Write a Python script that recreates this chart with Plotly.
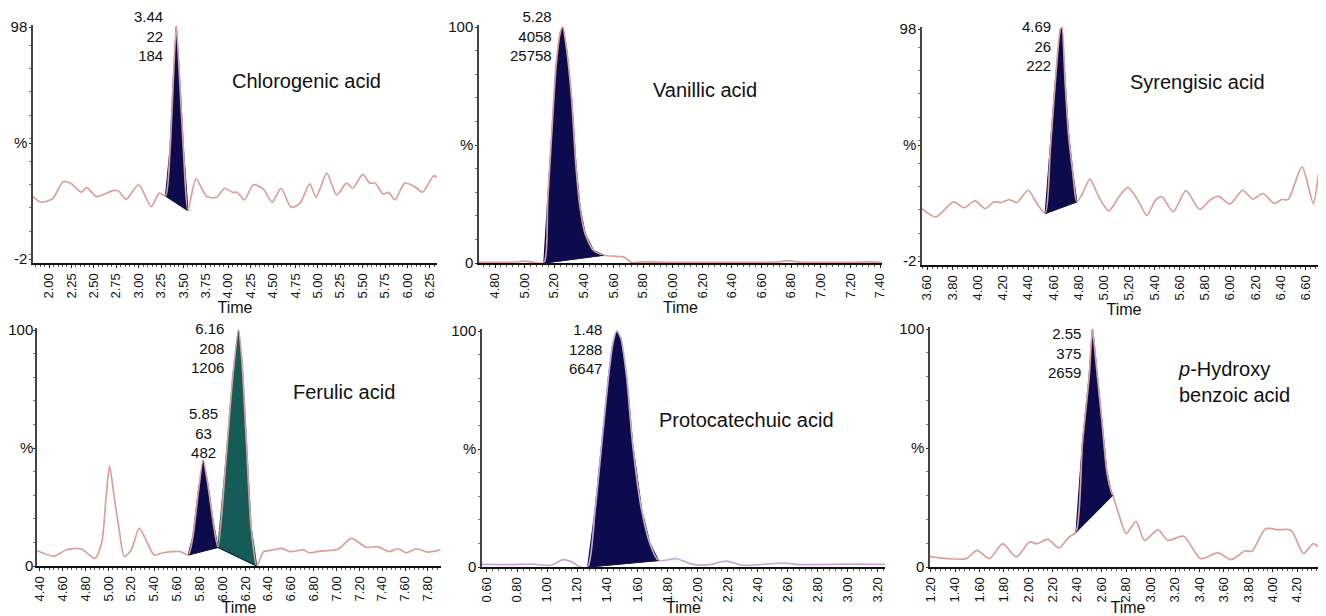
import plotly.graph_objects as go

# ---------------- data ----------------
# Chlorogenic acid
t1 = [1.82, 1.91, 2.04, 2.16, 2.25, 2.36, 2.42, 2.53, 2.71, 2.77, 2.86, 3.00, 3.14, 3.23,
      3.30, 3.35, 3.385, 3.42, 3.46, 3.50, 3.55,
      3.64, 3.76, 3.87, 3.96, 4.05, 4.10, 4.18, 4.28, 4.39, 4.49, 4.59, 4.70, 4.80, 4.91,
      4.98, 5.10, 5.21, 5.32, 5.39, 5.50, 5.58, 5.64, 5.73, 5.79, 5.86, 5.97, 6.08, 6.17,
      6.29, 6.33]
v1 = [24.9, 22.5, 24, 31.4, 30.4, 26.8, 28.8, 24.9, 27.5, 27.4, 23.8, 30, 20.6, 26.4,
      25.2, 45, 73.6, 98.3, 73.6, 45, 18.9,
      32.5, 24.9, 24.6, 28.5, 26.7, 26.8, 23.5, 30, 28.2, 22.5, 28.5, 20.3, 22, 30.4,
      24.6, 35, 25.6, 30.7, 28.5, 34.5, 30.7, 30.7, 26, 26.7, 23.5, 30.7, 29.2, 26.8,
      33.8, 33.5]
peaks1 = [(3.30, 3.55)]
labels1 = ["3.44<br>22<br>184"]

# Vanillic acid
t2 = [4.69, 4.80, 4.92, 5.00, 5.06,
      5.13, 5.156, 5.183, 5.212, 5.24, 5.257, 5.284, 5.318, 5.347, 5.374, 5.408, 5.464, 5.532,
      5.62, 5.67, 5.72, 5.82, 6.00, 6.20, 6.40, 6.60, 6.72, 6.78, 6.85, 7.00, 7.20, 7.30, 7.41]
v2 = [0.3, 0.3, 0.3, 0.8, 0.3,
      0, 26.6, 55, 83.3, 97.5, 100, 90.4, 69, 40.8, 23.8, 12.5, 5.4, 3.3,
      2.8, 2.5, 0.3, 0.5, 0.3, 0.3, 0.3, 0.3, 0.5, 1.0, 0.4, 0.3, 0.3, 0.5, 0.3]
peaks2 = [(5.13, 5.532)]
labels2 = ["5.28<br>4058<br>25758"]

# Syrengisic acid
t3 = [3.56, 3.67, 3.81, 3.89, 3.98, 4.06, 4.13, 4.19, 4.25, 4.31, 4.40, 4.47,
      4.536, 4.576, 4.615, 4.655, 4.668, 4.694, 4.72, 4.755, 4.786,
      4.83, 4.89, 4.96, 5.04, 5.12, 5.19, 5.27, 5.34, 5.41, 5.46, 5.55, 5.65, 5.76, 5.84,
      5.91, 6.00, 6.10, 6.18, 6.26, 6.35, 6.41, 6.46, 6.57, 6.66, 6.71, 6.76]
v3 = [20.6, 17, 23.5, 21, 23.9, 20.6, 23.5, 23.2, 24.5, 23.2, 28.5, 22.8,
      18.5, 45.8, 74.7, 97.7, 98.9, 74.7, 53, 35.8, 23.5,
      27, 33.3, 25.7, 19.6, 25.7, 29.7, 24.2, 17.7, 24.2, 25.7, 19.2, 28.3, 20.2, 24.2,
      25.9, 22.5, 28.5, 24.7, 27.1, 22.8, 24.5, 24.5, 38.6, 22.8, 38.6, 47.3]
peaks3 = [(4.536, 4.786)]
labels3 = ["4.69<br>26<br>222"]

# Ferulic acid
t4 = [4.36, 4.52, 4.63, 4.76, 4.88, 4.94, 4.98, 5.01, 5.05, 5.09, 5.14, 5.20, 5.27, 5.33,
      5.40, 5.48, 5.63, 5.70,
      5.74, 5.79, 5.83, 5.87, 5.92, 5.96,
      6.03, 6.09, 6.14, 6.17, 6.21, 6.25, 6.30,
      6.36, 6.41, 6.52, 6.59, 6.71, 6.76, 6.85, 7.01, 7.13, 7.26, 7.36, 7.46, 7.54, 7.61,
      7.70, 7.80, 7.91]
v4 = [6.8, 4.2, 6.8, 7.3, 3.2, 9.6, 29.4, 42.4, 29.4, 16.7, 4, 6.8, 16, 11,
      4.7, 5.6, 6.1, 4.7,
      12.4, 32.2, 44.9, 35, 18, 7.9,
      44.9, 80.2, 100, 87, 52, 16.7, 0,
      6.1, 6.5, 7.5, 6.1, 6.8, 5.6, 6.3, 7.1, 11.7, 7.9, 8.2, 6.1, 7.3, 5.6,
      7.3, 5.9, 6.8]
peaks4 = [(5.70, 5.96), (5.96, 6.30)]
labels4 = ["5.85<br>63<br>482", "6.16<br>208<br>1206"]

# Protocatechuic acid
t5 = [0.567, 0.75, 0.90, 1.02, 1.11, 1.17, 1.22,
      1.27, 1.319, 1.363, 1.408, 1.437, 1.463, 1.49, 1.529, 1.569, 1.629, 1.684, 1.74,
      1.86, 1.97, 2.08, 2.19, 2.30, 2.45, 2.57, 2.68, 2.79, 3.00, 3.247]
v5 = [1.1, 1.0, 1.2, 0.7, 3.1, 2.0, 0,
      0, 24, 52, 80.5, 94.6, 100, 97, 80.5, 52, 24, 9.9, 2.8,
      3.5, 1.1, 1.0, 2.5, 0.7, 1.2, 1.7, 1.0, 1.0, 1.2, 1.1]
peaks5 = [(1.27, 1.74)]
labels5 = ["1.48<br>1288<br>6647"]

# p-Hydroxy benzoic acid
t6 = [1.195, 1.34, 1.49, 1.58, 1.68, 1.79, 1.90, 2.01, 2.07, 2.16, 2.25, 2.33,
      2.39, 2.442, 2.497, 2.524, 2.538, 2.565, 2.606, 2.64, 2.674, 2.69,
      2.73, 2.80, 2.88, 2.95, 3.06, 3.14, 3.27, 3.41, 3.55, 3.66, 3.77, 3.83, 3.94, 4.04,
      4.15, 4.25, 4.33, 4.39, 4.435]
v6 = [4.5, 3.5, 3.5, 7, 3.5, 9.8, 4.2, 10.5, 9.8, 11.6, 8, 12.5,
      14.7, 51.9, 80, 100, 94, 80, 59, 40.7, 32.3, 30.2,
      23.8, 14, 19.2, 11.2, 15.7, 11.2, 12.9, 3.5, 5.9, 3.1, 6.7, 6.7, 16.1, 15.7,
      15.4, 5.6, 9.8, 8.1, 9.8]
peaks6 = [(2.39, 2.69)]
labels6 = ["2.55<br>375<br>2659"]

names = ["Chlorogenic acid", "Vanillic acid", "Syrengisic acid",
         "Ferulic acid", "Protocatechuic acid", "<i>p</i>-Hydroxy<br>benzoic acid"]

# ---------------- styling / layout ----------------
PAGE_W, PAGE_H = 1326, 616
OFF = 8                      # default page margin of the html body
W, H = PAGE_W - OFF, PAGE_H - OFF
PINK = "#d9a09c"
LAV = "#c7a7d2"
NAVY = "#0b0b4e"
TEAL = "#155b57"
FONT = "Liberation Sans, Arial, sans-serif"


def fx(p):
    return (p - OFF) / W


def fy(p):
    return 1 - (p - OFF) / H


panels = [
    dict(t=t1, v=v1, peaks=peaks1, fills=[NAVY], line=PINK, xdom=(33, 437), ydom=(25, 263),
         xr=(1.821, 6.33), yr=(-3.72, 98.86), dtick=0.25, ytv=[-2, 48, 98], ytt=["-2", "%", "98"],
         name_pos=(306, 81, "center"), lab=[(165, 36, "right")], ystand=-1, tstand=1),
    dict(t=t2, v=v2, peaks=peaks2, fills=[NAVY], line=PINK, xdom=(479, 882), ydom=(25, 263),
         xr=(4.692, 7.413), yr=(0, 100.85), dtick=0.2, ytv=[0, 50, 100], ytt=["0", "%", "100"],
         name_pos=(705, 90, "center"), lab=[(554, 36, "right")], ystand=-1, tstand=1),
    dict(t=t3, v=v3, peaks=peaks3, fills=[NAVY], line=PINK, xdom=(922, 1326), ydom=(27, 265),
         xr=(3.56, 6.76), yr=(-3.72, 98.86), dtick=0.2, ytv=[-2, 48, 98], ytt=["-2", "%", "98"],
         name_pos=(1197, 82, "center"), lab=[(1053, 46, "right")], ystand=-1, tstand=1),
    dict(t=t4, v=v4, peaks=peaks4, fills=[NAVY, TEAL], line=PINK, xdom=(37, 441), ydom=(328, 566),
         xr=(4.374, 7.915), yr=(0, 100.85), dtick=0.2, ytv=[0, 50, 100], ytt=["0", "%", "100"],
         name_pos=(344, 392, "center"), lab=[(203, 433, "center"), (226, 348, "right")],
         ystand=-3, tstand=4),
    dict(t=t5, v=v5, peaks=peaks5, fills=[NAVY], line=LAV, xdom=(482, 885), ydom=(329, 567),
         xr=(0.567, 3.247), yr=(0, 100.85), dtick=0.2, ytv=[0, 50, 100], ytt=["0", "%", "100"],
         name_pos=(746, 420, "center"), lab=[(604, 349, "right")], ystand=-1, tstand=4),
    dict(t=t6, v=v6, peaks=peaks6, fills=[NAVY], line=PINK, xdom=(930, 1326), ydom=(327, 567),
         xr=(1.195, 4.435), yr=(0, 100.84), dtick=0.2, ytv=[0, 50, 100], ytt=["0", "%", "100"],
         name_pos=(1176, 382, "left"), lab=[(1083, 353, "right")], ystand=-1, tstand=4),
]
all_labels = [labels1, labels2, labels3, labels4, labels5, labels6]

fig = go.Figure()
annotations = []
layout_axes = {}

for i, p in enumerate(panels):
    k = "" if i == 0 else str(i + 1)
    xa, ya = "x" + k, "y" + k
    # peak fills
    for (a, b), col in zip(p["peaks"], p["fills"]):
        pts = [(t, v) for t, v in zip(p["t"], p["v"]) if a - 1e-9 <= t <= b + 1e-9]
        px_ = [q[0] for q in pts] + [pts[0][0]]
        py_ = [q[1] for q in pts] + [pts[0][1]]
        fig.add_trace(go.Scatter(x=px_, y=py_, mode="lines", fill="toself", fillcolor=col,
                                 line=dict(color=col, width=1.2), xaxis=xa, yaxis=ya,
                                 showlegend=False, hoverinfo="skip"))
    # chromatogram trace
    fig.add_trace(go.Scatter(x=p["t"], y=p["v"], mode="lines",
                             line=dict(color=p["line"], width=1.7, shape="spline", smoothing=0.7),
                             xaxis=xa, yaxis=ya, showlegend=False))
    # peak baselines on top
    for (a, b), col in zip(p["peaks"], p["fills"]):
        pts = [(t, v) for t, v in zip(p["t"], p["v"]) if a - 1e-9 <= t <= b + 1e-9]
        fig.add_trace(go.Scatter(x=[pts[0][0], pts[-1][0]], y=[pts[0][1], pts[-1][1]],
                                 mode="lines", line=dict(color="#1a1a3a", width=1),
                                 xaxis=xa, yaxis=ya, showlegend=False, hoverinfo="skip"))

    layout_axes["xaxis" + k] = dict(
        domain=[max(0, fx(p["xdom"][0])), min(1, fx(p["xdom"][1]))], range=list(p["xr"]), anchor=ya,
        tick0=0, dtick=p["dtick"], tickformat=".2f", tickangle=-90,
        ticks="outside", ticklen=3, tickwidth=1, tickcolor="#222",
        minor=dict(ticks="outside", ticklen=2, dtick=p["dtick"] / 5, tickcolor="#555"),
        showline=True, linecolor="#111", linewidth=2, showgrid=False, zeroline=False,
        tickfont=dict(family=FONT, size=13, color="#111"),
        title=dict(text="Time", font=dict(family=FONT, size=16, color="#111"), standoff=p["tstand"]),
        automargin=False,
    )
    layout_axes["yaxis" + k] = dict(
        domain=[fy(p["ydom"][1]), fy(p["ydom"][0])], range=list(p["yr"]), anchor=xa,
        tickmode="array", tickvals=p["ytv"], ticktext=p["ytt"],
        ticks="outside", ticklen=2, tickwidth=1, tickcolor="#333",
        minor=dict(ticks="outside", ticklen=2, dtick=10, tickcolor="#777"),
        showline=True, linecolor="#444", linewidth=1.5, showgrid=False, zeroline=False,
        tickfont=dict(family=FONT, size=15, color="#111"), ticklabelstandoff=p["ystand"],
        automargin=False,
    )
    nx, ny, nal = p["name_pos"]
    annotations.append(dict(text=names[i], x=fx(nx), y=fy(ny), xref="paper", yref="paper",
                            xanchor=nal, yanchor="middle", align=nal, showarrow=False,
                            font=dict(family=FONT, size=20, color="#111")))
    for txt, (lx, ly, lal) in zip(all_labels[i], p["lab"]):
        annotations.append(dict(text=txt, x=fx(lx), y=fy(ly), xref="paper", yref="paper",
                                xanchor=lal, yanchor="middle", align=lal, showarrow=False,
                                font=dict(family=FONT, size=15, color="#111")))

fig.update_layout(
    width=W, height=H, margin=dict(l=0, r=0, t=0, b=0),
    paper_bgcolor="white", plot_bgcolor="white",
    annotations=annotations, showlegend=False,
    **layout_axes,
)

fig.write_html("out.html")
